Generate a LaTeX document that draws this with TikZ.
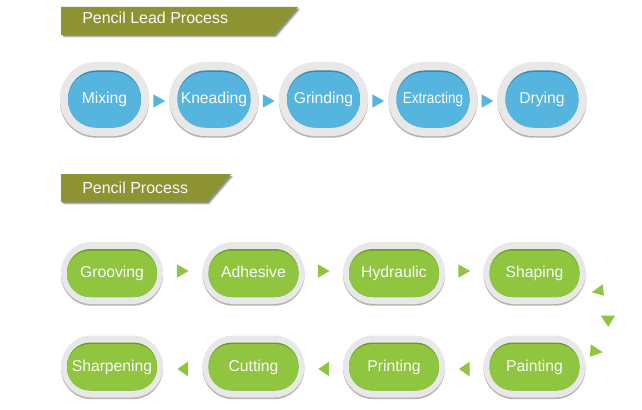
\documentclass[tikz,border=0pt]{standalone}
\usepackage{fontspec}
\setmainfont{Liberation Sans}
\usetikzlibrary{calc,shadows}
\definecolor{bannerol}{HTML}{8E9332}
\definecolor{ringgray}{HTML}{E8E8E8}
\definecolor{ringshadow}{HTML}{B9B2A6}
\definecolor{bluefill}{HTML}{56B5DF}
\definecolor{blueedge}{HTML}{3D87A8}
\definecolor{greenfill}{HTML}{8FC53F}
\definecolor{greenedge}{HTML}{6B9A2A}
\definecolor{txtwhite}{HTML}{FAFAFA}
\begin{document}
\begin{tikzpicture}[x=0.75pt,y=-0.75pt,
  ring/.style={rectangle, fill=ringgray, draw=none, inner sep=0pt,
    drop shadow={shadow xshift=0pt, shadow yshift=-1.3pt, fill=ringshadow, opacity=1}},
  bring/.style={ring, minimum width=66.75pt, minimum height=55.5pt, rounded corners=27pt},
  binedge/.style={rectangle, fill=blueedge, inner sep=0pt, minimum width=54.75pt, minimum height=42.75pt, rounded corners=21pt},
  bin/.style={rectangle, fill=bluefill, inner sep=0pt, minimum width=54.75pt, minimum height=41.5pt, rounded corners=20.5pt,
    text=txtwhite, font=\fontsize{11.8pt}{13pt}\selectfont, text height=6pt, text depth=0pt},
  gring/.style={ring, minimum width=76.5pt, minimum height=46.5pt, rounded corners=23pt},
  ginedge/.style={rectangle, fill=greenedge, inner sep=0pt, minimum width=67.5pt, minimum height=36pt, rounded corners=17.5pt},
  gin/.style={rectangle, fill=greenfill, inner sep=0pt, minimum width=67.5pt, minimum height=34.8pt, rounded corners=17pt,
    text=txtwhite, font=\fontsize{11.8pt}{13pt}\selectfont, text height=6pt, text depth=0pt},
  bannerfill/.style={fill=bannerol},
  bannertext/.style={text=txtwhite, font=\fontsize{12pt}{14pt}\selectfont, inner sep=0pt, anchor=base west},
  barrow/.style={fill=bluefill},
  garrow/.style={fill=greenfill}
]
\useasboundingbox (0,0) rectangle (642,410);

% ---------- banners ----------
\foreach \s/\o in {2.6/0.10,2/0.15,1.4/0.25}{
  \fill[black,opacity=\o] (61+\s,7+\s) -- (298+\s,7+\s) -- (274+\s,35+\s) -- (61+\s,35+\s) -- cycle;
  \fill[black,opacity=\o] (61+\s,174+\s) -- (231+\s,174+\s) -- (207+\s,202+\s) -- (61+\s,202+\s) -- cycle;
}
\fill[bannerfill] (61,7) -- (298,7) -- (274,35) -- (61,35) -- cycle;
\node[bannertext] (title1) at (82,24) {Pencil Lead Process};
\fill[bannerfill] (61,174) -- (231,174) -- (207,202) -- (61,202) -- cycle;
\node[bannertext] (title2) at (82,193) {Pencil Process};

% ---------- macros ----------
\newcommand\procB[4]{%
  \node[bring] (#1) at (#2,#3) {};
  \node[binedge] at (#1) {};
  \node[bin] (#1t) at ([yshift=-0.6pt]#1) {#4};}
\newcommand\procG[4]{%
  \node[gring] (#1) at (#2,#3) {};
  \node[ginedge] at (#1) {};
  \node[gin] (#1t) at ([yshift=-0.6pt]#1) {#4};}
% right-pointing triangle between nodes #2 and #3, vertical offset #4 (pt)
\newcommand\rtri[4]{%
  \coordinate (m) at ($(#2.east)!0.5!(#3.west)+(0,#4)$);
  \fill[#1] ([xshift=-4.4pt,yshift=5pt]m) -- ([xshift=4.4pt]m) -- ([xshift=-4.4pt,yshift=-5pt]m) -- cycle;}
\newcommand\ltri[4]{%
  \coordinate (m) at ($(#2.east)!0.5!(#3.west)+(0,#4)$);
  \fill[#1] ([xshift=4pt,yshift=5.5pt]m) -- ([xshift=-4pt]m) -- ([xshift=4pt,yshift=-5.5pt]m) -- cycle;}

% ---------- pencil lead process ----------
\procB{mix}{104.5}{99}{Mixing}
\procB{knead}{214}{99}{Kneading}
\procB{grind}{323.5}{99}{Grinding}
\procB{extract}{433}{99}{\scalebox{0.86}[1]{Extracting}}
\procB{dry}{542}{99}{Drying}
\rtri{barrow}{mix}{knead}{2}
\rtri{barrow}{knead}{grind}{2}
\rtri{barrow}{grind}{extract}{2}
\rtri{barrow}{extract}{dry}{2}

% ---------- pencil process ----------
\procG{groove}{112}{273}{Grooving}
\procG{adhes}{253.5}{273}{Adhesive}
\procG{hydra}{394}{273}{Hydraulic}
\procG{shape}{534.5}{273}{Shaping}
\procG{sharp}{112}{366.5}{Sharpening}
\procG{cut}{253.5}{366.5}{Cutting}
\procG{print}{394}{366.5}{Printing}
\procG{paint}{534.5}{366.5}{Painting}
\rtri{garrow}{groove}{adhes}{-2}
\rtri{garrow}{adhes}{hydra}{-2}
\rtri{garrow}{hydra}{shape}{-2}
\ltri{garrow}{sharp}{cut}{2.5}
\ltri{garrow}{cut}{print}{2.5}
\ltri{garrow}{print}{paint}{2.5}

% turn arrows at the right
\fill[garrow] (591.7,292.3) -- (602.7,284.3) -- (604,295.7) -- cycle;
\fill[garrow] (600.7,315.7) -- (615,315.7) -- (608.3,326.7) -- cycle;
\fill[garrow] (590.7,344.3) -- (602.7,352.3) -- (590,356.7) -- cycle;
\end{tikzpicture}
\end{document}
